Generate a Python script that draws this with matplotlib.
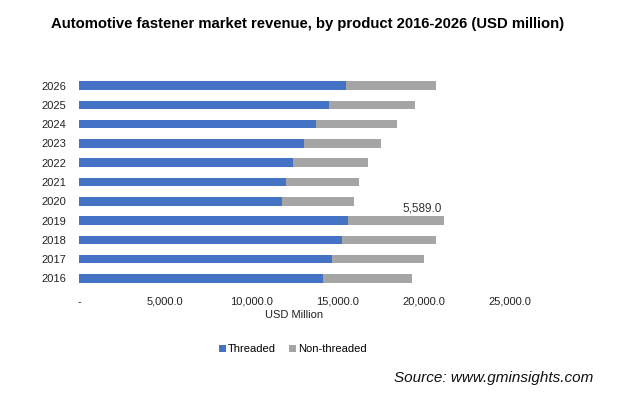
import numpy as np
import matplotlib.pyplot as plt

plt.rcParams['font.family'] = ['Liberation Sans', 'DejaVu Sans']

years = ["2016", "2017", "2018", "2019", "2020", "2021", "2022", "2023", "2024", "2025", "2026"]
threaded = [14130, 14650, 15230, 15600, 11750, 11985, 12390, 13030, 13720, 14530, 15460]
non_threaded = [5210, 5380, 5500, 5589, 4230, 4285, 4400, 4510, 4750, 4980, 5270]
xticks = [0, 5000, 10000, 15000, 20000, 25000]
xtick_labels = ["-", "5,000.0", "10,000.0", "15,000.0", "20,000.0", "25,000.0"]

fig = plt.figure(figsize=(6.25, 3.94), dpi=100)
ax = fig.add_axes([79 / 625, 1 - 290 / 394, (510 - 79) / 625, (290 - 74) / 394])

y = np.arange(len(years))
ax.barh(y, threaded, height=0.45, color="#4472C4", label="Threaded")
ax.barh(y, non_threaded, left=threaded, height=0.45, color="#A5A5A5", label="Non-threaded")

# label on 2019 non-threaded segment
i = years.index("2019")
ax.text(threaded[i] + non_threaded[i] - 1300, i + 0.32, f"{non_threaded[i]:,.1f}",
        ha="center", va="bottom", fontsize=8.5, color="#333333")

ax.set_xlim(0, 25000)
ax.set_ylim(-0.6, 10.6)
ax.set_xticks(xticks)
ax.set_xticklabels(xtick_labels, fontsize=8, color="#222222")
ax.set_yticks(y)
ax.set_yticklabels(years, fontsize=8, color="#222222")
ax.tick_params(length=0)
ax.tick_params(axis="x", pad=5)
ax.tick_params(axis="y", pad=9)
for s in ax.spines.values():
    s.set_visible(False)

ax.set_xlabel("USD Million", fontsize=8, color="#222222", labelpad=2)

fig.text(308 / 625, 1 - 24 / 394, "Automotive fastener market revenue, by product 2016-2026 (USD million)",
         ha="center", va="center", fontsize=10.7, fontweight="bold")

fig.legend(loc="center", bbox_to_anchor=(293 / 625, 1 - 349 / 394), ncol=2, frameon=False,
           fontsize=8, handlelength=0.6, handleheight=0.6, handletextpad=0.2, columnspacing=1.2)

fig.text(593 / 625, 1 - 378 / 394, "Source: www.gminsights.com", ha="right", va="center",
         fontsize=11, style="italic", color="#111111")

fig.savefig("out.png", dpi=100)
